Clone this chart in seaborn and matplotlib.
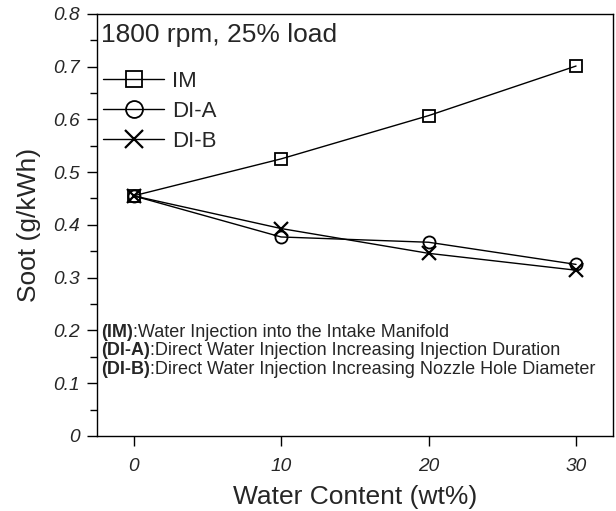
import pandas as pd
import numpy as np
import seaborn as sns
import matplotlib.pyplot as plt
from matplotlib.ticker import MultipleLocator, FuncFormatter

water = [0, 10, 20, 30]
soot_im = [0.455, 0.525, 0.607, 0.701]
soot_dia = [0.455, 0.377, 0.367, 0.325]
soot_dib = [0.455, 0.393, 0.346, 0.314]
series = ['IM', 'DI-A', 'DI-B']
notes = [('(IM)', ':Water Injection into the Intake Manifold'),
         ('(DI-A)', ':Direct Water Injection Increasing Injection Duration'),
         ('(DI-B)', ':Direct Water Injection Increasing Nozzle Hole Diameter')]

df = pd.DataFrame({
    'Water': water * 3,
    'Soot': soot_im + soot_dia + soot_dib,
    'Case': [s for s in series for _ in water],
})

sns.set_style('ticks')
plt.rcParams['font.family'] = ['Liberation Sans', 'DejaVu Sans']

fig = plt.figure(figsize=(6.16, 5.11), dpi=100)
ax = fig.add_axes([0.157, 0.147, 0.838, 0.826])

sns.lineplot(data=df, x='Water', y='Soot', hue='Case', style='Case',
             palette=['black'] * 3, markers=['s', 'o', 'X'], dashes=False,
             markersize=8.7, linewidth=1, markerfacecolor='none',
             markeredgecolor='black', markeredgewidth=1.3, ax=ax, legend=False)
# swap the filled X for a thin x
for line, m in zip(ax.get_lines(), ['s', 'o', 'x']):
    line.set_marker(m)
    line.set_markerfacecolor('none')
    line.set_markeredgewidth(1.6 if m == 'x' else 1.3)
    if m == 'x':
        line.set_markersize(9.5)

ax.set_xlim(-2.5, 32.5)
ax.set_ylim(0, 0.8)
ax.set_xticks(water)
ax.yaxis.set_major_locator(MultipleLocator(0.1))
ax.yaxis.set_minor_locator(MultipleLocator(0.05))
ax.yaxis.set_major_formatter(FuncFormatter(lambda v, p: '0' if abs(v) < 1e-9 else f'{v:.1f}'))
ax.tick_params(axis='both', which='major', length=7.5, width=1, labelsize=13.8, color='black')
ax.tick_params(axis='x', which='major', pad=8.5)
ax.tick_params(axis='y', which='major', pad=4.5)
ax.tick_params(axis='y', which='minor', length=5, width=1, color='black')
for lab in ax.get_xticklabels() + ax.get_yticklabels():
    lab.set_fontstyle('italic')
for sp in ax.spines.values():
    sp.set_visible(True)
    sp.set_color('black')
    sp.set_linewidth(1)

ax.set_xlabel('Water Content (wt%)', fontsize=19, labelpad=7)
ax.set_ylabel('Soot (g/kWh)', fontsize=19, labelpad=9)

ax.text(0.008, 0.95, '1800 rpm, 25% load', transform=ax.transAxes,
        fontsize=19, va='center', ha='left')

leg = ax.legend(ax.get_lines(), series, loc='upper left',
                bbox_to_anchor=(-0.005, 0.886), frameon=False, fontsize=16,
                handlelength=2.75, handletextpad=0.36, labelspacing=0.4,
                markerscale=1.4, borderaxespad=0)

ys = [0.196, 0.161, 0.125]
for (b, rest), y in zip(notes, ys):
    t = ax.text(0.008, y, b, transform=ax.get_yaxis_transform(),
                fontsize=13, fontweight='bold', va='center', ha='left')
    ax.annotate(rest, xy=(1, 0.5), xycoords=t, va='center', ha='left',
                fontsize=13)

fig.savefig('out.png', dpi=100)
